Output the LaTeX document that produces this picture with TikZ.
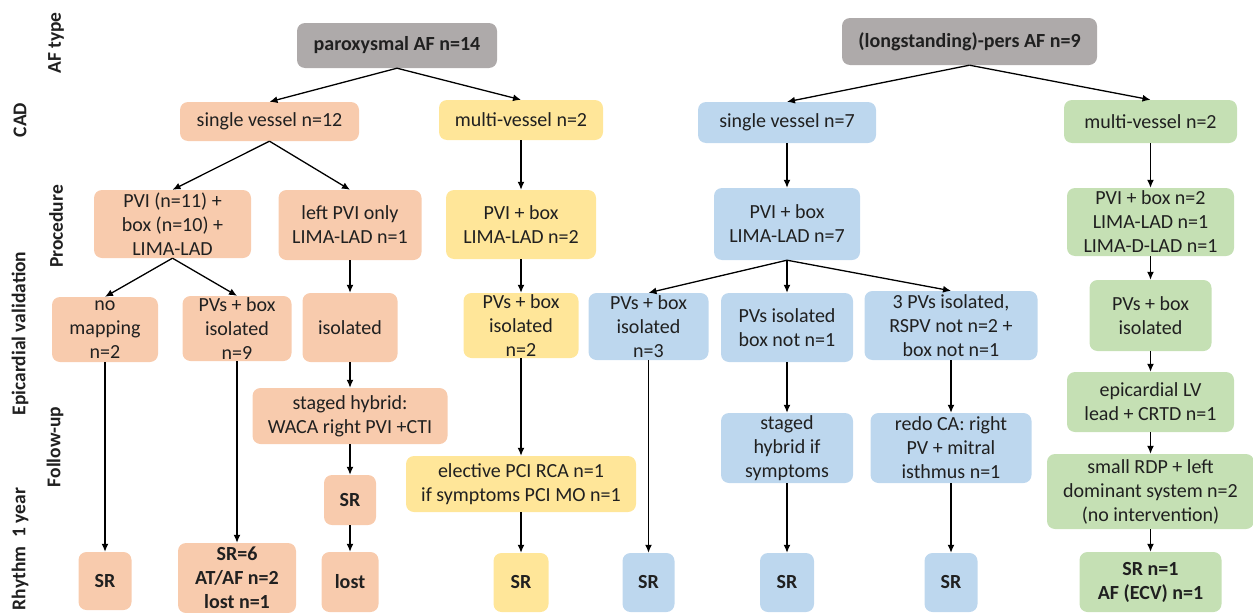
\documentclass[tikz,border=0pt]{standalone}
\usepackage{fontspec}
\setmainfont{Carlito}
\usetikzlibrary{arrows.meta}
\definecolor{cgray}{HTML}{AEAAAA}
\definecolor{cpeach}{HTML}{F8CBAD}
\definecolor{cyel}{HTML}{FFE699}
\definecolor{cblue}{HTML}{BDD7EE}
\definecolor{cgreen}{HTML}{C5E0B4}
\definecolor{ctext}{HTML}{202020}
\begin{document}
\begin{tikzpicture}[x=1pt,y=-1pt,
  box/.style={rounded corners=8pt, inner sep=0pt, align=center, text=ctext, font=\fontsize{20}{24}\selectfont},
  sz/.style 2 args={minimum width=#1pt, minimum height=#2pt},
  bbox/.style={box, font=\bfseries\fontsize{20}{24}\selectfont},
  arr/.style={-{Latex[length=8pt,width=7pt]}, line width=1.3pt},
  lbl/.style={rotate=90, text=ctext, font=\bfseries\fontsize{19.5}{23}\selectfont}]
\useasboundingbox (0,0) rectangle (1253,613);
% row labels
\node[lbl] (lafi) at (56,43) {AF type};
\node[lbl] (lcad) at (20,120) {CAD};
\node[lbl] (lproc) at (56,226.5) {Procedure};
\node[lbl] (lepi) at (20,333.5) {Epicardial validation};
\node[lbl] (lfol) at (55,447) {Follow-up};
\node[lbl] (lrhy) at (20,549) {Rhythm~~1 year};
% AF type
\node[bbox, fill=cgray, sz={200}{45}] (parox) at (397,45.5) {paroxysmal AF n=14};
\node[bbox, fill=cgray, sz={255}{47}] (longst) at (969.5,41.5) {(longstanding)-pers AF n=9};
% CAD
\node[box, fill=cpeach, sz={179}{39}] (sv12) at (269.5,121.5) {single vessel n=12};
\node[box, fill=cyel, sz={164}{40}] (mv2y) at (521,120) {multi-vessel n=2};
\node[box, fill=cblue, sz={178}{41}] (sv7) at (787,122.5) {single vessel n=7};
\node[box, fill=cgreen, sz={173}{43}] (mv2g) at (1150.5,121.5) {multi-vessel n=2};
% Procedure
\node[box, fill=cpeach, sz={157}{68}] (pvi11) at (172.5,224) {PVI (n=11) +\\box (n=10) +\\LIMA-LAD};
\node[box, fill=cpeach, sz={143}{70}] (leftpvi) at (350,225) {left PVI only\\LIMA-LAD n=1};
\node[box, fill=cyel, sz={150}{69}] (pviy) at (521,224.5) {PVI + box\\LIMA-LAD n=2};
\node[box, fill=cblue, sz={146}{72}] (pvib) at (787,224) {PVI + box\\LIMA-LAD n=7};
\node[box, fill=cgreen, sz={167}{68}] (pvig) at (1150.5,222) {PVI + box n=2\\LIMA-LAD n=1\\LIMA-D-LAD n=1};
% Epicardial validation
\node[box, fill=cpeach, sz={106}{65}] (nomap) at (105,329.5) {no\\mapping\\n=2};
\node[box, fill=cpeach, sz={109}{65}] (pvs9) at (237,328.5) {PVs + box\\isolated\\n=9};
\node[box, fill=cpeach, sz={95}{69}] (iso) at (350,327.5) {isolated};
\node[box, fill=cyel, sz={115}{65}] (pvsy) at (521,325.5) {PVs + box\\isolated\\n=2};
\node[box, fill=cblue, sz={120}{67}] (pvsb) at (648.5,326.5) {PVs + box\\isolated\\n=3};
\node[box, fill=cblue, sz={132}{69}] (pvsnot) at (787,327.5) {PVs isolated\\box not n=1};
\node[box, fill=cblue, sz={173}{69}] (pvs3) at (951,325.5) {3 PVs isolated,\\RSPV not n=2 +\\box not n=1};
\node[box, fill=cgreen, sz={122}{71}] (pvsg) at (1150.5,315.5) {PVs + box\\isolated};
% Follow-up
\node[box, fill=cpeach, sz={195}{56}] (staged) at (350,416) {staged hybrid:\\WACA right PVI +CTI};
\node[box, fill=cblue, sz={132}{70}] (stagedb) at (787,448) {staged\\hybrid if\\symptoms};
\node[box, fill=cblue, sz={161}{70}] (redo) at (951,448) {redo CA: right\\PV + mitral\\isthmus n=1};
\node[box, fill=cgreen, sz={167}{60}] (epi) at (1150.5,402) {epicardial LV\\lead + CRTD n=1};
\node[box, fill=cgreen, sz={207}{75}] (small) at (1150.5,491.5) {small RDP + left\\dominant system n=2\\(no intervention)};
\node[bbox, fill=cpeach, sz={52}{50}] (srp) at (350,500) {SR};
\node[box, fill=cyel, sz={230}{56}] (elect) at (521,484) {elective PCI RCA n=1\\if symptoms PCI MO n=1};
% Rhythm
\node[bbox, fill=cpeach, sz={53}{58}] (sr1) at (105,581) {SR};
\node[bbox, fill=cpeach, sz={118}{70}] (sr6) at (237,578) {SR=6\\AT/AF n=2\\lost n=1};
\node[bbox, fill=cpeach, sz={57}{60}] (lost) at (350,582) {lost};
\node[bbox, fill=cyel, sz={55}{59}] (sry) at (521,582.5) {SR};
\node[bbox, fill=cblue, sz={52}{59}] (srb1) at (648.5,582.5) {SR};
\node[bbox, fill=cblue, sz={54}{59}] (srb2) at (787,582.5) {SR};
\node[bbox, fill=cblue, sz={53}{59}] (srb3) at (951,582.5) {SR};
\node[bbox, fill=cgreen, sz={142}{60}] (srg) at (1150.5,582) {SR n=1\\AF (ECV) n=1};
% connectors
\draw[arr] (parox.south) -- (sv12.north);
\draw[arr] (parox.south) -- (mv2y.north);
\draw[arr] (longst.south) -- (sv7.north);
\draw[arr] (longst.south) -- (mv2g.north);
\draw[arr] (sv12.south) -- (pvi11.north);
\draw[arr] (sv12.south) -- (leftpvi.north);
\draw[arr] (mv2y.south) -- (pviy.north);
\draw[arr] (sv7.south) -- (pvib.north);
\draw[arr] (mv2g.south) -- (pvig.north);
\draw[arr] (pvi11.south) -- (nomap.north);
\draw[arr] (pvi11.south) -- (pvs9.north);
\draw[arr] (leftpvi.south) -- (iso.north);
\draw[arr] (pviy.south) -- (pvsy.north);
\draw[arr] (pvib.south) -- (pvsb.north);
\draw[arr] (pvib.south) -- (pvsnot.north);
\draw[arr] (pvib.south) -- (pvs3.north);
\draw[arr] (pvig.south) -- (pvsg.north);
\draw[arr] (nomap.south) -- (sr1.north);
\draw[arr] (pvs9.south) -- (sr6.north);
\draw[arr] (iso.south) -- (staged.north);
\draw[arr] (staged.south) -- (srp.north);
\draw[arr] (srp.south) -- (lost.north);
\draw[arr] (pvsy.south) -- (elect.north);
\draw[arr] (elect.south) -- (sry.north);
\draw[arr] (pvsb.south) -- (srb1.north);
\draw[arr] (pvsnot.south) -- (stagedb.north);
\draw[arr] (stagedb.south) -- (srb2.north);
\draw[arr] (pvs3.south) -- (redo.north);
\draw[arr] (redo.south) -- (srb3.north);
\draw[arr] (pvsg.south) -- (epi.north);
\draw[arr] (epi.south) -- (small.north);
\draw[arr] (small.south) -- (srg.north);
\end{tikzpicture}
\end{document}
